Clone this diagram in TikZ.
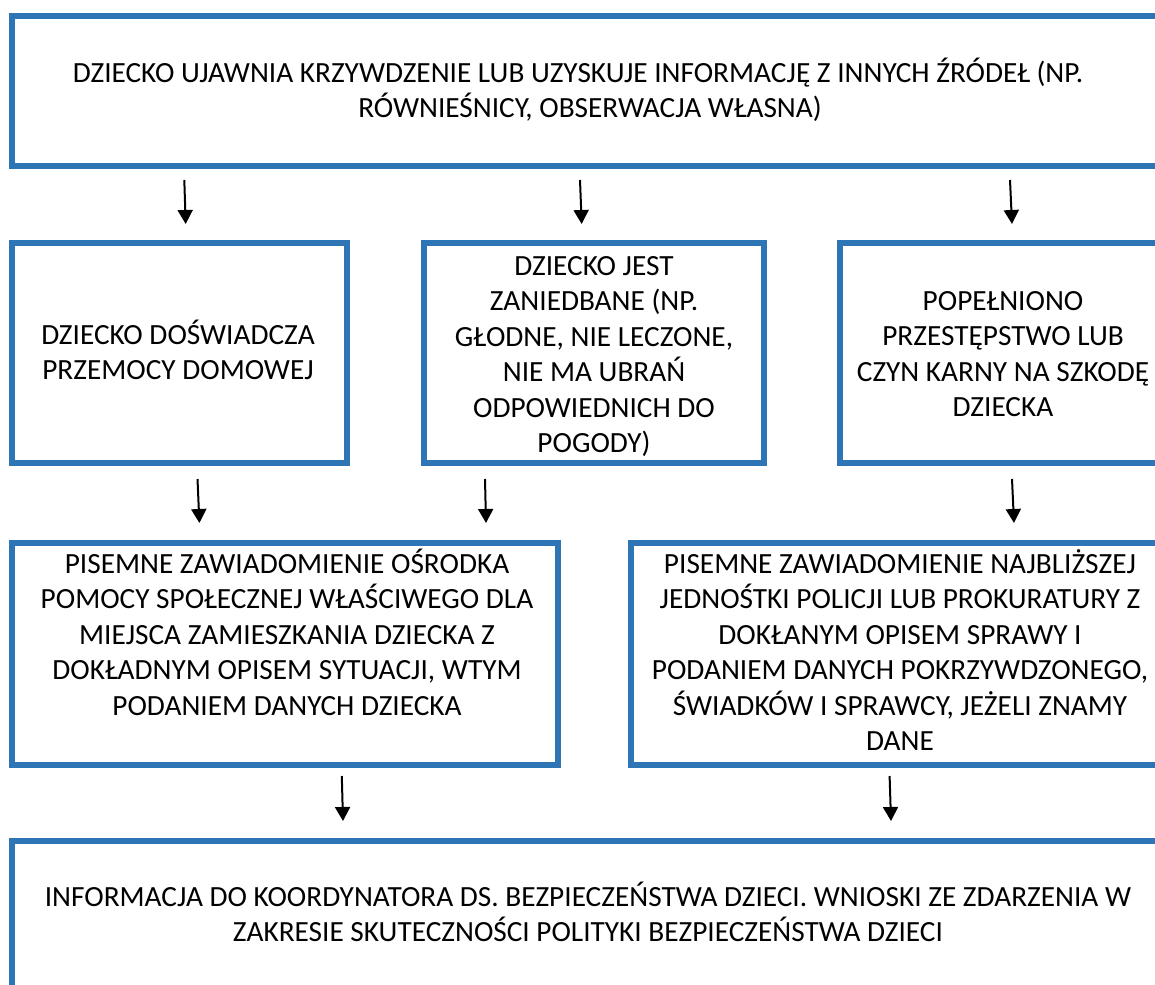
\documentclass[tikz,border=0pt]{standalone}
\usepackage{fontspec}
\setmainfont{Carlito}
\usetikzlibrary{arrows.meta}
\definecolor{wordblue}{RGB}{46,117,182}
\tikzset{
  box/.style={draw=wordblue, line width=6pt, rectangle, inner sep=0pt, fill=none},
  txt/.style={anchor=base, align=center, inner sep=0pt, font=\fontsize{29.3}{35.5}\selectfont},
  arr/.style={draw=black, line width=2pt, -{Triangle[width=15pt,length=14pt]}}
}
\begin{document}
\begin{tikzpicture}[x=1pt,y=-1pt]
\useasboundingbox (0,0) rectangle (1155,984);
\clip (0,0) rectangle (1155,984);
% boxes
\node[box, minimum width=1158pt, minimum height=150pt] (top) at (591,91) {};
\node[box, minimum width=335pt, minimum height=220pt] (b1) at (179.5,353) {};
\node[box, minimum width=340pt, minimum height=220pt] (b2) at (594,353) {};
\node[box, minimum width=330pt, minimum height=220pt] (b3) at (1005,353) {};
\node[box, minimum width=546pt, minimum height=222pt] (c1) at (285,654) {};
\node[box, minimum width=539pt, minimum height=222pt] (c2) at (900.5,654) {};
\node[box, minimum width=1158pt, minimum height=159pt] (bot) at (591,920.5) {};
% texts (base anchor = baseline of the last line)
\node[txt] (ttop) at (590,118) {DZIECKO UJAWNIA KRZYWDZENIE LUB UZYSKUJE INFORMACJĘ Z INNYCH ŹRÓDEŁ (NP.\hspace*{24pt}\\RÓWNIEŚNICY, OBSERWACJA WŁASNA)};
\node[txt] (tb1) at (178,379.5) {DZIECKO DOŚWIADCZA\\PRZEMOCY DOMOWEJ};
\node[txt] (tb2) at (594,452.7) {DZIECKO JEST\\ZANIEDBANE (NP.\\GŁODNE, NIE LECZONE,\\NIE MA UBRAŃ\\ODPOWIEDNICH DO\\POGODY)};
\node[txt] (tb3) at (1003,416.5) {POPEŁNIONO\\PRZESTĘPSTWO LUB\\CZYN KARNY NA SZKODĘ\\DZIECKA};
\node[txt] (tc1) at (287,715) {PISEMNE ZAWIADOMIENIE OŚRODKA\\POMOCY SPOŁECZNEJ WŁAŚCIWEGO DLA\\MIEJSCA ZAMIESZKANIA DZIECKA Z\\DOKŁADNYM OPISEM SYTUACJI, WTYM\\PODANIEM DANYCH DZIECKA};
\node[txt] (tc2) at (900,750.5) {PISEMNE ZAWIADOMIENIE NAJBLIŻSZEJ\\JEDNOŚTKI POLICJI LUB PROKURATURY Z\\DOKŁANYM OPISEM SPRAWY I\\PODANIEM DANYCH POKRZYWDZONEGO,\\ŚWIADKÓW I SPRAWCY, JEŻELI ZNAMY\\DANE};
\node[txt] (tbot) at (588,941.7) {INFORMACJA DO KOORDYNATORA DS. BEZPIECZEŃSTWA DZIECI. WNIOSKI ZE ZDARZENIA W\\ZAKRESIE SKUTECZNOŚCI POLITYKI BEZPIECZEŃSTWA DZIECI};
% arrow end points
\coordinate (a1s) at (184.3,180); \coordinate (a1e) at (185.7,224);
\coordinate (a2s) at (580,180);   \coordinate (a2e) at (581.7,224);
\coordinate (a3s) at (1010,180);  \coordinate (a3e) at (1012,224);
\coordinate (a4s) at (197.5,479); \coordinate (a4e) at (199.4,523);
\coordinate (a5s) at (485,479);   \coordinate (a5e) at (486,523);
\coordinate (a6s) at (1012,479);  \coordinate (a6e) at (1014,523);
\coordinate (a7s) at (341.8,776); \coordinate (a7e) at (343,821);
\coordinate (a8s) at (889.6,776); \coordinate (a8e) at (891,821);
\foreach \i in {1,...,8} { \draw[arr] (a\i s) -- (a\i e); }
\end{tikzpicture}
\end{document}
